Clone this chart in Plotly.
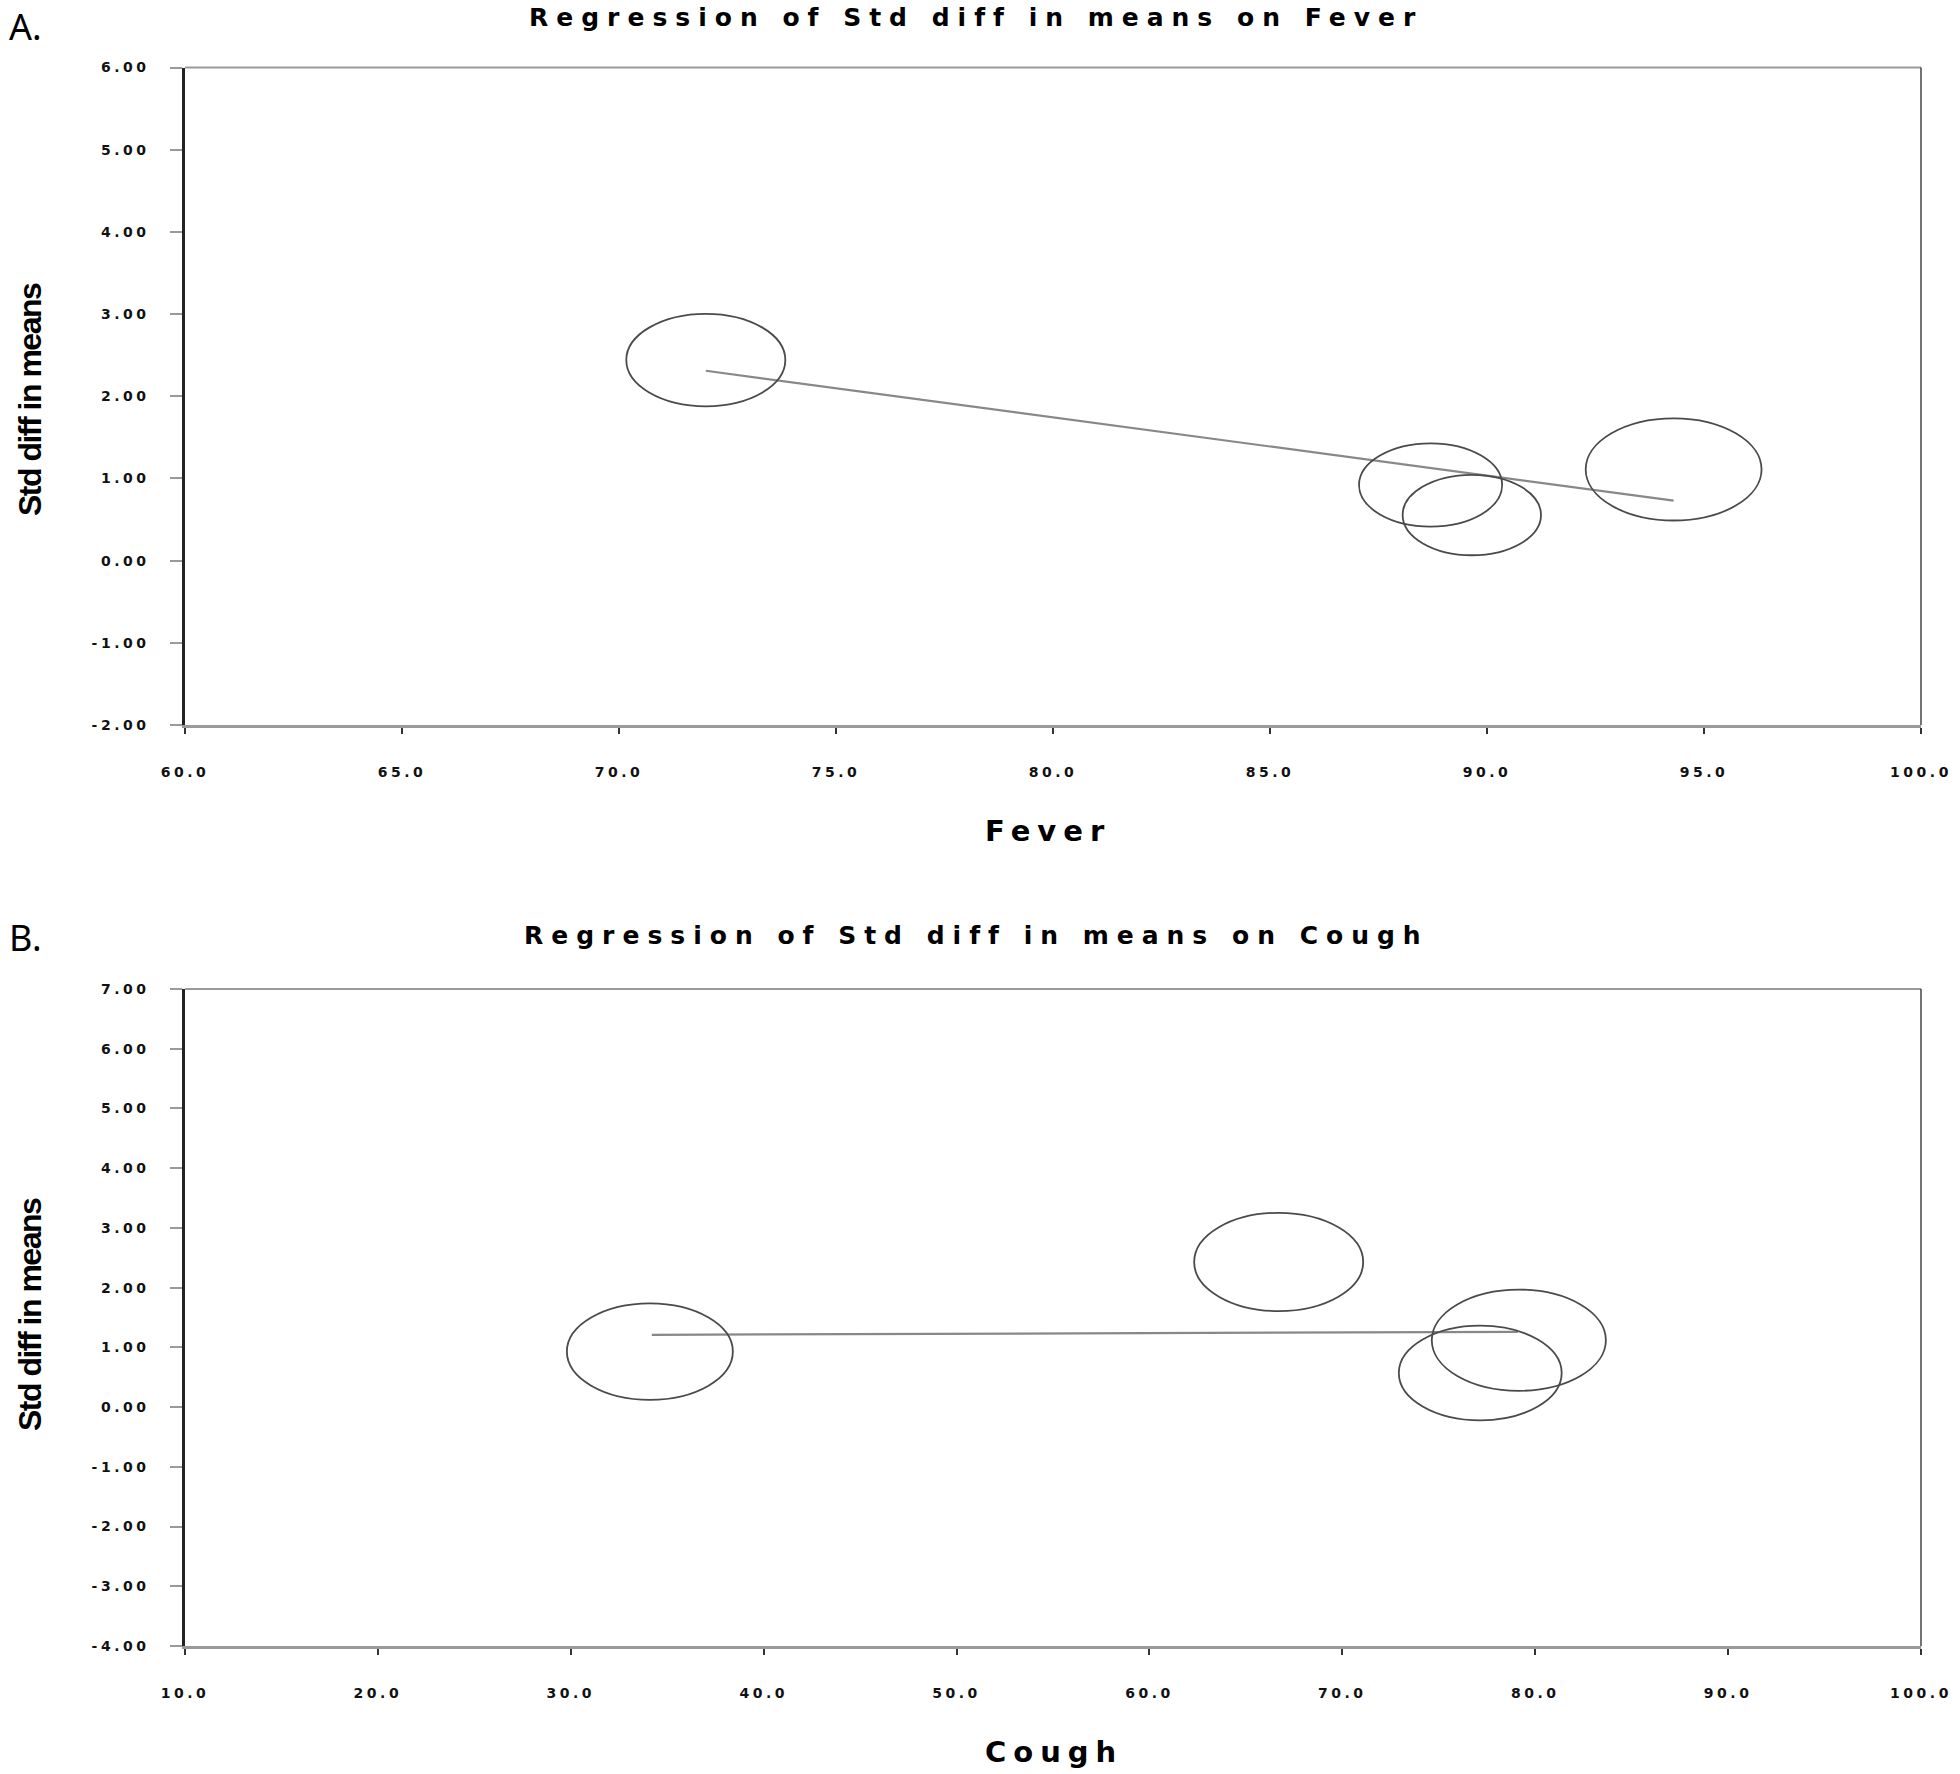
import numpy as np
import plotly.graph_objects as go

# Panel A: regression of SMD on Fever (%)
fever = [72.0, 88.7, 89.65, 94.3]
fever_smd = [2.44, 0.92, 0.555, 1.11]
fever_weight = [24.7, 20.0, 18.7, 30.2]
fever_fit_x = [72.0, 94.3]
fever_fit_y = [2.31, 0.73]
fever_xticks = [60, 65, 70, 75, 80, 85, 90, 95, 100]
fever_yticks = [-2, -1, 0, 1, 2, 3, 4, 5, 6]

# Panel B: regression of SMD on Cough (%)
cough = [34.1, 66.7, 79.15, 77.15]
cough_smd = [0.93, 2.43, 1.12, 0.57]
cough_weight = [26.9, 27.9, 29.6, 25.9]
cough_fit_x = [34.2, 79.1]
cough_fit_y = [1.21, 1.26]
cough_xticks = [10, 20, 30, 40, 50, 60, 70, 80, 90, 100]
cough_yticks = [-4, -3, -2, -1, 0, 1, 2, 3, 4, 5, 6, 7]

W, H = 1960, 1774
X_DOM = [185 / W, 1921 / W]
A_DOM = [1 - 725 / H, 1 - 67.5 / H]
B_DOM = [1 - 1646 / H, 1 - 989 / H]
BUBBLE = 32     # px diameter per sqrt(weight)
SQUASH = 1.72   # source image is stretched sideways, bubbles are ellipses

TICK_FONT = dict(family="DejaVu Sans", size=14, color="#111111", weight="bold")


def spaced(text, px):
    return f'<span style="letter-spacing:{px}px">{text}</span>'


def add_panel(fig, n, x, y, w, fit_x, fit_y, xticks, yticks, ydom):
    xa, ya = ("x", "y") if n == 1 else (f"x{n}", f"y{n}")
    xr = [xticks[0], xticks[-1]]
    yr = [yticks[0], yticks[-1]]

    fig.add_trace(go.Scatter(x=fit_x, y=fit_y, mode="lines", xaxis=xa, yaxis=ya,
                             line=dict(color="#888888", width=2.2), hoverinfo="skip"))

    # bubbles sized by study weight, converted from px to data units
    pw = W * (X_DOM[1] - X_DOM[0])
    ph = H * (ydom[1] - ydom[0])
    for cx, cy, wt in zip(x, y, w):
        d = BUBBLE * np.sqrt(wt)
        rx = d / 2 * (xr[1] - xr[0]) / pw
        ry = d / SQUASH / 2 * (yr[1] - yr[0]) / ph
        fig.add_shape(type="circle", xref=xa, yref=ya, x0=cx - rx, x1=cx + rx,
                      y0=cy - ry, y1=cy + ry, layer="above",
                      line=dict(color="#4a4a4a", width=1.8))

    # top and right frame
    fig.add_shape(type="line", xref=f"{xa} domain", yref=f"{ya} domain",
                  x0=0, x1=1, y0=1, y1=1, line=dict(color="#9a9a9a", width=2))
    fig.add_shape(type="line", xref=f"{xa} domain", yref=f"{ya} domain",
                  x0=1, x1=1, y0=0, y1=1, line=dict(color="#444", width=1.5))

    xkey = "xaxis" if n == 1 else f"xaxis{n}"
    ykey = "yaxis" if n == 1 else f"yaxis{n}"
    fig.update_layout(**{
        xkey: dict(domain=X_DOM, anchor=ya, range=xr, tickmode="array", tickvals=xticks,
                   ticktext=[spaced(f"{v:.1f}", 3.5) for v in xticks],
                   ticks="outside", ticklen=6, tickwidth=1.5, tickcolor="#333",
                   showline=True, linecolor="#9a9a9a", linewidth=3,
                   showgrid=False, zeroline=False, tickfont=TICK_FONT,
                   ticklabelstandoff=26, automargin=False),
        ykey: dict(domain=ydom, anchor=xa, range=yr, tickmode="array", tickvals=yticks,
                   ticktext=[spaced(f"{v:.2f}", 3.5) for v in yticks],
                   ticks="outside", ticklen=12, tickwidth=1.5, tickcolor="#9a9a9a",
                   showline=True, linecolor="#222", linewidth=2.5,
                   showgrid=False, zeroline=False, tickfont=TICK_FONT,
                   ticklabelstandoff=18, automargin=False),
    })


fig = go.Figure()
add_panel(fig, 1, fever, fever_smd, fever_weight, fever_fit_x, fever_fit_y,
          fever_xticks, fever_yticks, A_DOM)
add_panel(fig, 2, cough, cough_smd, cough_weight, cough_fit_x, cough_fit_y,
          cough_xticks, cough_yticks, B_DOM)

title_font = dict(family="DejaVu Sans", size=25, color="black", weight="bold")
label_font = dict(family="DejaVu Sans", size=29, color="black", weight="bold")
ylab_font = dict(family="Liberation Sans", size=32, color="black", weight="bold")
letter_font = dict(family="Noto Sans", size=36, color="black")


def note(text, px, py, font, angle=0, yanchor="middle"):
    fig.add_annotation(text=text, xref="paper", yref="paper", x=px / W, y=1 - py / H,
                       xanchor="center", yanchor=yanchor, showarrow=False,
                       font=font, textangle=angle)


note(spaced("Regression of Std diff in means on Fever", 8), 976, 18, title_font)
note(spaced("Regression of Std diff in means on Cough", 8), 976, 935, title_font)
note("A.", 25, 0, letter_font, yanchor="top")
note("B.", 25, 937, letter_font)
note(spaced("Fever", 7), 1048, 831, label_font)
note(spaced("Cough", 7), 1054, 1752, label_font)
note(spaced("Std diff in means", -1.5), 30, 400, ylab_font, -90)
note(spaced("Std diff in means", -1.5), 30, 1315, ylab_font, -90)

fig.update_layout(width=W, height=H,
                  margin=dict(l=0, r=0, t=0, b=0, autoexpand=False),
                  paper_bgcolor="white", plot_bgcolor="white",
                  showlegend=False, hovermode=False)

fig.write_html("out.html", config={"displayModeBar": False},
               post_script="document.body.style.margin='0';")
